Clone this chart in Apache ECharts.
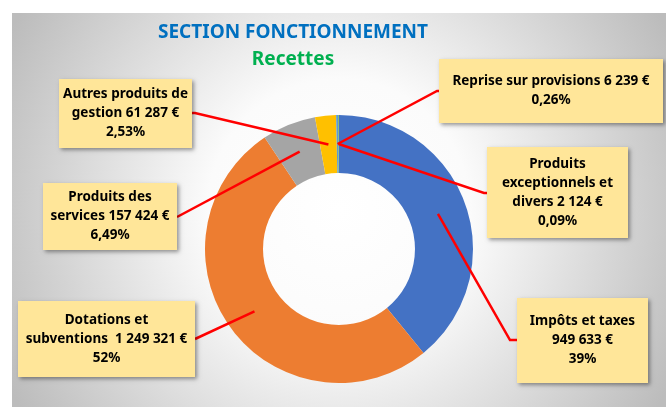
<!DOCTYPE html>
<html>
<head>
<meta charset="utf-8">
<script src="https://cdn.jsdelivr.net/npm/echarts@6/dist/echarts.min.js"></script>
<style>
html, body { margin: 0; padding: 0; background: #fff; }
#main { width: 666px; height: 407px; }
</style>
</head>
<body>
<div id="main"></div>
<script>
// Recettes de fonctionnement (€)
var categories = ['Impôts et taxes', 'Dotations et subventions', 'Produits des services', 'Autres produits de gestion', 'Reprise sur provisions', 'Produits exceptionnels et divers'];
var labelNames = ['Impôts et taxes\n', 'Dotations et\nsubventions  ', 'Produits des\nservices ', 'Autres produits de\ngestion ', 'Reprise sur provisions ', 'Produits\nexceptionnels et\ndivers '];
var amounts = [949633, 1249321, 157424, 61287, 6239, 2124];
var percentLabels = ['39%', '52%', '6,49%', '2,53%', '0,26%', '0,09%'];
var colors = ['#4472C4', '#ED7D31', '#A5A5A5', '#FFC000', '#5B9BD5', '#70AD47'];

// boites des etiquettes : [gauche, haut, largeur, hauteur]
var boxes = [[517, 298, 131, 85], [18, 301, 177, 76], [43, 183, 134, 67], [59, 79, 133, 69], [439, 59, 224, 64], [487, 147, 141, 91]];
// points des lignes de rappel apres le depart dans l'anneau
var guides = [[[510, 340], [517, 340]], [[195, 339]], [[177, 217]], [[195, 113], [192, 113]], [[437, 91], [439, 91]], [[484, 193], [487, 193]]];

var center = [339, 249];
var radius = [76, 134];
var font = "'Liberation Sans Narrow', 'Noto Sans', sans-serif";

function fmt(v) {
    return String(v).replace(/\B(?=(\d{3})+(?!\d))/g, ' ');
}

var ringData = [];
var labelData = [];
for (var i = 0; i < categories.length; i++) {
    var lines = (labelNames[i] + 'x\nx').split('\n').length;
    var pad = Math.max(0, (boxes[i][3] - lines * 19) / 2);
    ringData.push({ name: categories[i], value: amounts[i], itemStyle: { color: colors[i] } });
    labelData.push({
        name: categories[i],
        value: amounts[i],
        label: { width: boxes[i][2] - 8, padding: [pad, 4, pad, 4] }
    });
}

var myChart = echarts.init(document.getElementById('main'));
var option = {
    animation: false,
    graphic: [{
        type: 'rect',
        z: -10,
        shape: { x: 12, y: 13, width: 654, height: 394 },
        style: {
            fill: new echarts.graphic.RadialGradient(0.5, 0.5, 0.95, [
                { offset: 0, color: '#ffffff' },
                { offset: 0.35, color: '#fbfbfb' },
                { offset: 1, color: '#bcbcbc' }
            ])
        }
    }],
    title: [{
        text: 'SECTION FONCTIONNEMENT',
        left: 288,
        top: 18,
        textAlign: 'center',
        textStyle: { color: '#0070C0', fontSize: 19, fontWeight: 'bold', fontFamily: font }
    }, {
        text: 'Recettes',
        left: 288,
        top: 45,
        textAlign: 'center',
        textStyle: { color: '#00B050', fontSize: 19, fontWeight: 'bold', fontFamily: font }
    }],
    series: [{
        // anneau colore
        type: 'pie',
        z: 2,
        silent: true,
        center: center,
        radius: radius,
        startAngle: 90,
        clockwise: true,
        data: ringData,
        itemStyle: { borderWidth: 0 },
        label: { show: false },
        labelLine: { show: false }
    }, {
        // meme anneau invisible qui porte les etiquettes au-dessus
        type: 'pie',
        z: 3,
        silent: true,
        center: center,
        radius: radius,
        startAngle: 90,
        clockwise: true,
        avoidLabelOverlap: false,
        data: labelData,
        itemStyle: { color: 'rgba(0,0,0,0)', borderWidth: 0 },
        label: {
            show: true,
            position: 'outside',
            color: '#000',
            fontSize: 13.5,
            fontWeight: 'bold',
            fontFamily: font,
            lineHeight: 19,
            align: 'center',
            overflow: 'none',
            backgroundColor: '#FFE699',
            shadowColor: 'rgba(0,0,0,0.4)',
            shadowBlur: 4,
            shadowOffsetX: 2,
            shadowOffsetY: 2,
            formatter: function (p) {
                return labelNames[p.dataIndex] + fmt(p.value) + ' €\n' + percentLabels[p.dataIndex];
            }
        },
        labelLine: {
            show: true,
            lineStyle: { color: '#FF0000', width: 2.5 }
        },
        labelLayout: function (params) {
            var i = params.dataIndex;
            var b = boxes[i];
            var p0 = params.labelLinePoints[0];
            var dx = p0[0] - center[0], dy = p0[1] - center[1];
            var d = Math.sqrt(dx * dx + dy * dy) || 1;
            var rm = (radius[0] + radius[1]) / 2;
            var start = [center[0] + dx / d * rm, center[1] + dy / d * rm];
            return {
                x: b[0] + b[2] / 2,
                y: b[1] + b[3] / 2,
                align: 'center',
                verticalAlign: 'middle',
                labelLinePoints: [start].concat(guides[i])
            };
        }
    }]
};
myChart.setOption(option);
</script>
</body>
</html>
